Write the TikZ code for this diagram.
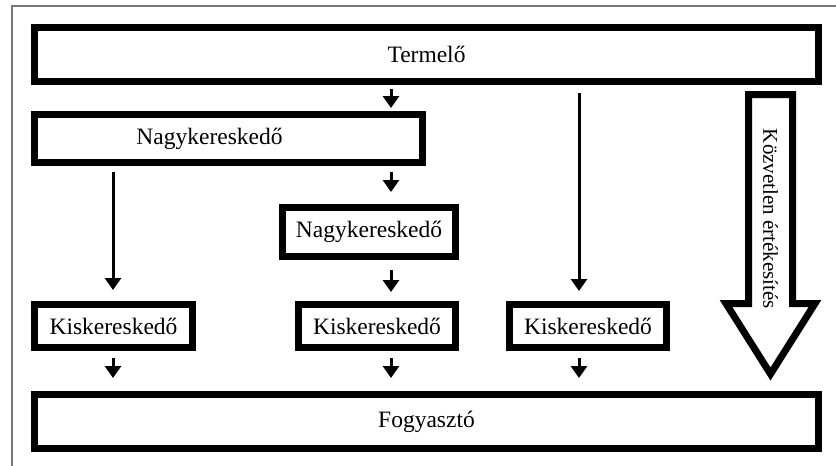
\documentclass[tikz,border=0pt]{standalone}
\usepackage{fontspec}
\setmainfont{Liberation Serif}
\usetikzlibrary{arrows.meta}
\definecolor{framegray}{RGB}{128,120,108}
\begin{document}
\begin{tikzpicture}[x=1pt,y=-1pt,
  box/.style={draw=black,line width=7pt,rectangle,inner sep=0pt,font=\fontsize{23.5}{28}\selectfont},
  txt/.style={font=\fontsize{23.5}{28}\selectfont,inner sep=0pt},
  arr/.style={line width=3pt,-{Triangle[width=16pt,length=12pt]}}]
\useasboundingbox (0,0) rectangle (836,466);
\fill[white] (0,0) rectangle (836,466);
\draw[line width=2pt,color=framegray] (836,6) -- (12,6) -- (12,466);

\node[box,minimum width=784pt,minimum height=54pt] (t) at (426.5,54.5) {Termelő};
\node[box,minimum width=388pt,minimum height=48pt] (n1) at (228.5,138.5) {};
\node[txt] (n1t) at (209.5,138.5) {Nagykereskedő};
\node[box,minimum width=173pt,minimum height=49pt] (n2) at (369,232) {Nagykereskedő};
\node[box,minimum width=158pt,minimum height=43pt] (k1) at (113.5,326) {Kiskereskedő};
\node[box,minimum width=157pt,minimum height=43pt] (k2) at (377,326) {Kiskereskedő};
\node[box,minimum width=157pt,minimum height=43pt] (k3) at (588,326) {Kiskereskedő};
\node[box,minimum width=784pt,minimum height=54pt] (f) at (426.5,421.5) {Fogyasztó};

\coordinate (xa) at (391,0);
\coordinate (xb) at (113,0);
\coordinate (xc) at (579,0);

\draw[arr,shorten <=4pt,shorten >=3pt] (t.south -| xa) -- (n1.north -| xa);
\draw[arr,shorten <=6pt,shorten >=12pt] (n1.south -| xa) -- (n2.north -| xa);
\draw[arr,shorten <=6pt,shorten >=11pt] (n1.south -| xb) -- (k1.north -| xb);
\draw[arr,shorten <=8pt,shorten >=10pt] (t.south -| xc) -- (k3.north -| xc);
\draw[arr,shorten <=10pt,shorten >=9pt] (n2.south -| xa) -- (k2.north -| xa);
\draw[arr,shorten <=7pt,shorten >=13pt] (k1.south -| xb) -- (f.north -| xb);
\draw[arr,shorten <=7pt,shorten >=13pt] (k2.south -| xa) -- (f.north -| xa);
\draw[arr,shorten <=7pt,shorten >=13pt] (k3.south -| xc) -- (f.north -| xc);

\draw[line width=7pt,miter limit=10] (748.5,94.5) -- (792.5,94.5) -- (792.5,303.5) -- (815,303.5) -- (770.5,374) -- (726,303.5) -- (748.5,303.5) -- cycle;
\node[font=\fontsize{21}{25}\selectfont,rotate=-90,inner sep=0pt] (kv) at (770.5,219) {Közvetlen értékesítés};
\end{tikzpicture}
\end{document}
